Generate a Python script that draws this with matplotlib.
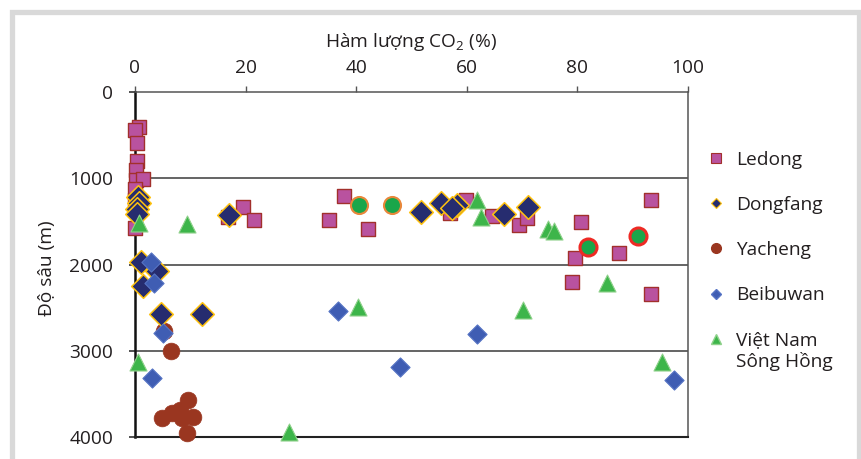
import matplotlib
matplotlib.use("Agg")
import matplotlib.pyplot as plt
from matplotlib.patches import Rectangle
from matplotlib.lines import Line2D

plt.rcParams['font.family'] = ['Open Sans', 'DejaVu Sans']
plt.rcParams['mathtext.fontset'] = 'custom'
plt.rcParams['mathtext.rm'] = 'Open Sans'
plt.rcParams['mathtext.it'] = 'Open Sans'

# CO2 content (%) and depth (m) per basin
ledong_x = [0.7, 0.0, 0.4, 0.3, 0.2, 0.1, 1.4, 0.0, 0.0, 0.0, 16.8, 19.5, 21.5,
            37.8, 35.1, 42.1, 59.9, 57.0, 64.6, 69.4, 70.9, 80.7, 79.6, 79.0,
            87.5, 93.3, 93.3]
ledong_y = [406, 440, 591, 800, 900, 1020, 1009, 1130, 1250, 1577, 1449, 1333, 1484,
            1206, 1484, 1588, 1252, 1403, 1438, 1542, 1461, 1507, 1925, 2203,
            1867, 1252, 2342]

dongfang_x = [0.5, 0.7, 0.3, 0.4, 17.0, 1.1, 4.0, 1.4, 4.7, 12.1,
              51.7, 55.3, 58.2, 57.3, 66.7, 71.1]
dongfang_y = [1220, 1290, 1360, 1410, 1426, 1971, 2075, 2249, 2574, 2574,
              1391, 1287, 1310, 1345, 1414, 1333]

yacheng_x = [5.2, 6.5, 9.6, 4.9, 6.7, 8.1, 8.5, 10.5, 9.4]
yacheng_y = [2771, 3003, 3571, 3780, 3722, 3687, 3780, 3768, 3954]

beibuwan_x = [2.9, 3.4, 5.1, 3.1, 36.7, 61.8, 47.9, 97.5]
beibuwan_y = [1971, 2214, 2794, 3316, 2539, 2806, 3188, 3339]

vn_x = [0.7, 9.4, 40.3, 0.5, 27.8, 61.8, 62.6, 74.7, 75.8, 70.2, 85.4, 95.3]
vn_y = [1520, 1530, 2493, 3130, 3942, 1252, 1449, 1588, 1612, 2528, 2214, 3130]

# highlighted samples
mark_orange_x = [40.5, 46.5]
mark_orange_y = [1310, 1310]
mark_red_x = [81.9, 91.0]
mark_red_y = [1797, 1670]

x_ticks = [0, 20, 40, 60, 80, 100]
y_ticks = [0, 1000, 2000, 3000, 4000]

FS = 13.8
TXT = '#231f20'

fig = plt.figure(figsize=(8.61, 4.59), dpi=100)
W, H = 861, 459
ax = fig.add_axes([135 / W, 1 - 437 / H, (688 - 135) / W, (437 - 92) / H])

ax.scatter(ledong_x, ledong_y, marker='s', s=115, facecolor='#b9529f',
           edgecolor='#a2302c', linewidth=1.0, clip_on=False, zorder=3)
ax.scatter(yacheng_x, yacheng_y, marker='o', s=145, facecolor='#9a3620',
           edgecolor='#9a3620', linewidth=0.5, clip_on=False, zorder=4)
ax.scatter(dongfang_x, dongfang_y, marker='D', s=145, facecolor='#262c6f',
           edgecolor='#ffc20e', linewidth=1.1, clip_on=False, zorder=5)
ax.scatter(beibuwan_x, beibuwan_y, marker='D', s=95, facecolor='#3f5db3',
           edgecolor='#5674c4', linewidth=0.8, clip_on=False, zorder=6)
ax.scatter(vn_x, vn_y, marker='^', s=150, facecolor='#3db54a',
           edgecolor='#8fd18b', linewidth=0.8, clip_on=False, zorder=7)
ax.scatter(mark_orange_x, mark_orange_y, marker='o', s=150, facecolor='#1aa64a',
           edgecolor='#e8873a', linewidth=1.5, clip_on=False, zorder=8)
ax.scatter(mark_red_x, mark_red_y, marker='o', s=150, facecolor='#1aa64a',
           edgecolor='#ee2a24', linewidth=2.2, clip_on=False, zorder=8)

ax.set_xlim(0, 100)
ax.set_ylim(4000, 0)
ax.set_xticks(x_ticks)
ax.set_yticks(y_ticks)
ax.xaxis.tick_top()
ax.xaxis.set_label_position('top')
ax.tick_params(axis='x', direction='out', length=4.5, width=1.0, color='#555555',
               pad=9.4, labelsize=FS, labelcolor=TXT)
ax.tick_params(axis='y', direction='out', length=4.5, width=1.2, color='#333333',
               pad=11, labelsize=FS, labelcolor=TXT)
for lbl in ax.get_xticklabels():
    lbl.set_verticalalignment('baseline')

ax.spines['left'].set_color('#111111')
ax.spines['left'].set_linewidth(1.8)
ax.spines['bottom'].set_color('#222222')
ax.spines['bottom'].set_linewidth(1.5)
ax.spines['top'].set_color('#555555')
ax.spines['top'].set_linewidth(1.1)
ax.spines['right'].set_color('#555555')
ax.spines['right'].set_linewidth(1.1)

for yv in y_ticks[1:-1]:
    ax.axhline(yv, color='#3a3a3a', linewidth=1.1, zorder=1)

ax.set_xlabel(r'Hàm lượng CO$_2$ (%)', fontsize=FS, color=TXT)
ax.xaxis.set_label_coords(0.5, (437 - 47) / (437 - 92))
ax.xaxis.label.set_verticalalignment('baseline')
ax.set_ylabel('Độ sâu (m)', fontsize=FS, color=TXT)
ax.yaxis.set_label_coords(-0.142, 0.49)

handles = [
    Line2D([], [], linestyle='none', marker='s', markersize=6.5,
           markerfacecolor='#b9529f', markeredgecolor='#a2302c', markeredgewidth=0.8),
    Line2D([], [], linestyle='none', marker='D', markersize=5,
           markerfacecolor='#262c6f', markeredgecolor='#ffc20e', markeredgewidth=0.8),
    Line2D([], [], linestyle='none', marker='o', markersize=7,
           markerfacecolor='#9a3620', markeredgecolor='#9a3620'),
    Line2D([], [], linestyle='none', marker='D', markersize=5.5,
           markerfacecolor='#3f5db3', markeredgecolor='#5674c4'),
    Line2D([], [], linestyle='none', marker='^', markersize=7.5,
           markerfacecolor='#3db54a', markeredgecolor='#8fd18b'),
]
labels = ['Ledong', 'Dongfang', 'Yacheng', 'Beibuwan', 'Việt Nam']
leg = fig.legend(handles, labels, loc='upper left',
                 bbox_to_anchor=(699 / W, 1 - 143 / H), frameon=False,
                 fontsize=FS, labelspacing=1.42, handletextpad=0.55,
                 handlelength=1.0, borderaxespad=0)
for t in leg.get_texts():
    t.set_color(TXT)

# second line of the last legend label, set directly under the first
fig.canvas.draw()
last = leg.get_texts()[-1]
bb = last.get_window_extent().transformed(fig.transFigure.inverted())
fig.text(bb.x0, bb.y0 - 2 / H, 'Sông Hồng', fontsize=FS, color=TXT,
         ha='left', va='top')

fig.patches.append(Rectangle((12 / W, -0.1), (858.5 - 12) / W, 1.1 - 12 / H,
                             transform=fig.transFigure, fill=False,
                             edgecolor='#d9d9d9', linewidth=3.8, zorder=0))

fig.savefig('out.png', dpi=100)
